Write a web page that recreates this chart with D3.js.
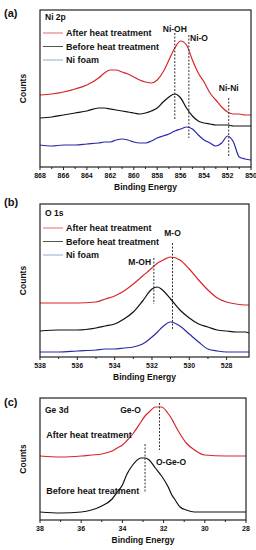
<!DOCTYPE html>
<html>
<head>
<meta charset="utf-8">
<script src="https://cdn.jsdelivr.net/npm/d3@7"></script>
<style>
  body { margin: 0; background: #fff; }
  text { font-family: "Liberation Sans", Arial, sans-serif; font-weight: bold; fill: #111; }
</style>
</head>
<body>
<svg width="256" height="550"></svg>
<script>
// ---- panel (a) Ni 2p ----
var energyA = [868,867,866,865,864,863,862.5,862,861.5,861,860.5,860,859.5,859,858.5,858,857.5,857,856.5,856,855.5,855,854.5,854,853.5,853,852.5,852,851.5,851,850.5,850];
var afterA  = [75,76,78,81,85,92,97,100,100,98,96,93,90,88,87,90,98,110,122,129,125,110,97,88,77,70,63,58,56,56,55,55];
var beforeA = [52,53,55,57,59,62,62,61,60,59,58,57,56,57,59,62,68,73,76,72,62,54,49,47,46,45,45,45,44,44,44,44];
var foamA   = [25,24,25,25,26,27,28,28,30,31,30,28,27,27,29,32,34,36,39,41,43,41,35,30,27,24,27,34,28,13,11,10];
var ticksA  = [868,866,864,862,860,858,856,854,852,850];
var peaksA  = [{name:"Ni-OH", e:856.5, v1:137, v2:50, le:856.5, lv:138, anchor:"middle"},
               {name:"Ni-O",  e:855.3, v1:135, v2:32, le:855.2, lv:129, anchor:"start"},
               {name:"Ni-Ni", e:851.9, v1:72,  v2:13, le:851.9, lv:79,  anchor:"middle"}];

// ---- panel (b) O 1s ----
var energyB = [538,537,536,535,534.5,534,533.5,533,532.5,532,531.7,531.5,531,530.5,530,529.5,529,528.5,528,527.5,527,526.8];
var afterB  = [56,56,56,57,60,63,68,75,83,91,96,98,102,99,90,79,69,61,57,55,54,54];
var beforeB = [28,29,29,31,33,35,40,47,58,70,72,70,60,49,41,35,32,29,28,27,27,26];
var foamB   = [7,7,8,9,10,10,11,12,15,22,27,31,37,33,25,17,10,8,7,7,7,7];
var ticksB  = [538,536,534,532,530,528];
var peaksB  = [{name:"M-OH", e:531.9, v1:101, v2:55, le:532.05, lv:94,  anchor:"end"},
               {name:"M-O",  e:530.9, v1:116, v2:29, le:530.9,  lv:123, anchor:"middle"}];

// ---- panel (c) Ge 3d ----
var energyC = [38,37,36,35.5,35,34.5,34.25,34,33.8,33.5,33.1,32.9,32.7,32.4,32.1,31.8,31.6,31.5,31.2,30.9,30.5,30,29,28];
var afterC  = [64,63,64,65,66,69,72,75,79,86,98,104,108,113,113,107,101,97,86,77,70,65,64,64];
var beforeC = [8,7,8,10,14,21,28,35,45,55,62,62,60,52,44,34,25,22,13,10,8,8,8,8];
var ticksC  = [38,36,34,32,30,28];
var peaksC  = [{name:"Ge-O",   e:32.2, v1:117, v2:70, le:33.1,  lv:107, anchor:"end"},
               {name:"O-Ge-O", e:32.9, v1:76,  v2:28, le:32.37, lv:55,  anchor:"start"}];
var notesC  = [{name:"After heat treatment",  e:37.7, v:82},
               {name:"Before heat treatment", e:37.7, v:26}];

var seriesNames = ["After heat treatment", "Before heat treatment", "Ni foam"];
var lineColors  = ["#d8262b", "#111111", "#2a2aa8"];
var legColors   = ["#e46a6a", "#555555", "#86b2d6"];

var svg = d3.select("svg");

function drawPanel(p) {
  var g = svg.append("g");
  var x = d3.scaleLinear().domain(p.xDomain).range([p.left, p.right]);
  var y = d3.scaleLinear().domain(p.yDomain).range([p.bottom, p.top]);

  // curves
  var line = d3.line()
    .x(function(d) { return x(d[0]); })
    .y(function(d) { return y(d[1]); })
    .curve(d3.curveMonotoneX);
  p.series.forEach(function(s, i) {
    g.append("path")
      .datum(p.energy.map(function(e, j) { return [e, s[j]]; }))
      .attr("d", line)
      .attr("fill", "none")
      .attr("stroke", lineColors[i])
      .attr("stroke-width", 1.2);
  });

  // dashed peak markers + labels
  p.peaks.forEach(function(pk) {
    g.append("line")
      .attr("x1", x(pk.e)).attr("x2", x(pk.e))
      .attr("y1", y(pk.v1)).attr("y2", y(pk.v2))
      .attr("stroke", "#333").attr("stroke-width", 1)
      .attr("stroke-dasharray", "2,1.5");
    g.append("text")
      .attr("x", x(pk.le)).attr("y", y(pk.lv))
      .attr("text-anchor", pk.anchor)
      .style("font-size", "8.5px")
      .text(pk.name);
  });

  (p.notes || []).forEach(function(n) {
    g.append("text")
      .attr("x", x(n.e)).attr("y", y(n.v))
      .style("font-size", "9px")
      .text(n.name);
  });

  // frame
  g.append("rect")
    .attr("x", p.left).attr("y", p.top)
    .attr("width", p.right - p.left).attr("height", p.bottom - p.top)
    .attr("fill", "none").attr("stroke", "#222").attr("stroke-width", 1.2);

  // x axis: major + minor ticks
  var minor = d3.range(d3.min(p.ticks), d3.max(p.ticks) + 1, 1);
  g.selectAll("line.minor").data(minor).enter().append("line")
    .attr("class", "minor")
    .attr("x1", function(d) { return x(d); }).attr("x2", function(d) { return x(d); })
    .attr("y1", p.bottom).attr("y2", function(d) { return p.ticks.indexOf(d) >= 0 ? p.bottom + 3 : p.bottom + 2; })
    .attr("stroke", "#222").attr("stroke-width", 1);
  g.selectAll("text.tick").data(p.ticks).enter().append("text")
    .attr("class", "tick")
    .attr("x", function(d) { return x(d); })
    .attr("y", p.bottom + 10.5)
    .attr("text-anchor", "middle")
    .style("font-size", "7px")
    .text(function(d) { return d; });

  g.append("text")
    .attr("x", (p.left + p.right) / 2).attr("y", p.bottom + 23)
    .attr("text-anchor", "middle")
    .style("font-size", "8.5px")
    .text("Binding Energy");

  g.append("text")
    .attr("transform", "translate(26," + ((p.top + p.bottom) / 2) + ") rotate(-90)")
    .attr("text-anchor", "middle")
    .style("font-size", "8.5px")
    .text("Counts");

  // panel letter + element title
  g.append("text")
    .attr("x", 4).attr("y", p.letterY)
    .style("font-size", "11px")
    .text(p.letter);
  g.append("text")
    .attr("x", p.left + 5).attr("y", p.titleY)
    .style("font-size", "8.5px")
    .text(p.title);

  // legend
  if (p.legendY) {
    seriesNames.forEach(function(nm, i) {
      var ly = p.legendY + i * 13.5;
      g.append("line")
        .attr("x1", p.left + 3).attr("x2", p.left + 23)
        .attr("y1", ly).attr("y2", ly)
        .attr("stroke", legColors[i]).attr("stroke-width", 1);
      g.append("text")
        .attr("x", p.left + 26).attr("y", ly + 3.2)
        .style("font-size", "9px")
        .text(nm);
    });
  }
}

drawPanel({letter:"(a)", letterY:17, title:"Ni 2p", titleY:20, left:40, right:251, top:10, bottom:167,
           xDomain:[868,850], yDomain:[3,160], energy:energyA,
           series:[afterA, beforeA, foamA], ticks:ticksA, peaks:peaksA, legendY:33});
drawPanel({letter:"(b)", letterY:206, title:"O 1s", titleY:216, left:40, right:249, top:204, bottom:357,
           xDomain:[538,526.8], yDomain:[2,155], energy:energyB,
           series:[afterB, beforeB, foamB], ticks:ticksB, peaks:peaksB, legendY:228});
drawPanel({letter:"(c)", letterY:406, title:"Ge 3d", titleY:413, left:40, right:246, top:398, bottom:520,
           xDomain:[38,28], yDomain:[0,122], energy:energyC,
           series:[afterC, beforeC], ticks:ticksC, peaks:peaksC, notes:notesC});
</script>
</body>
</html>
